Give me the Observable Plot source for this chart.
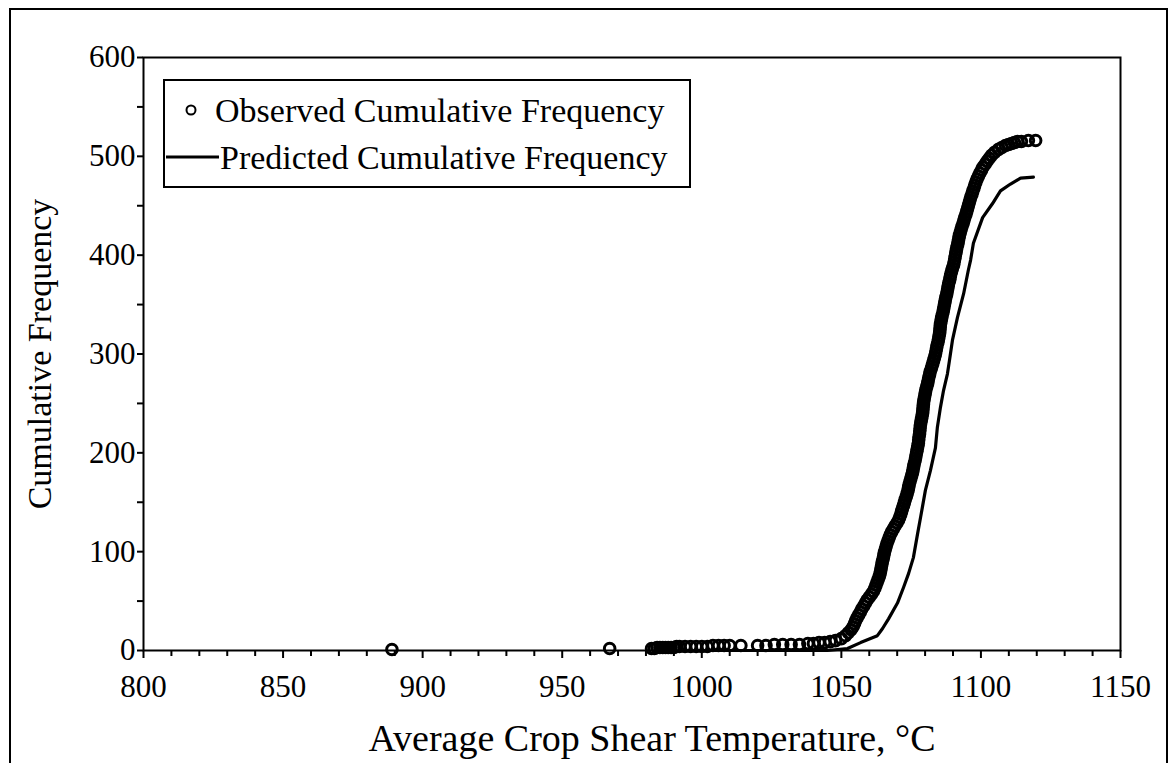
<!DOCTYPE html>
<html>
<head>
<meta charset="utf-8">
<script src="https://cdn.jsdelivr.net/npm/d3@7"></script>
<script src="https://cdn.jsdelivr.net/npm/@observablehq/plot@0.6"></script>
<style>
  html, body { margin: 0; padding: 0; background: #fff; }
  #wrap { position: relative; width: 1171px; height: 763px; overflow: hidden; }
  #border { position: absolute; left: 9px; top: 8px; width: 1159px; height: 800px; border: 2px solid #000; box-sizing: border-box; }
  #chart { position: absolute; left: 0; top: 0; }
</style>
</head>
<body>
<div id="wrap"><div id="border"></div><div id="chart"></div></div>
<script>
// ---- Data ----
const xTicks = [800, 850, 900, 950, 1000, 1050, 1100, 1150];
const xMinorTicks = [810, 820, 830, 840, 860, 870, 880, 890, 910, 920, 930, 940, 960, 970, 980, 990, 1010, 1020, 1030, 1040, 1060, 1070, 1080, 1090, 1110, 1120, 1130, 1140];
const yTicks = [0, 100, 200, 300, 400, 500, 600];
const yMinorTicks = [50, 150, 250, 350, 450, 550];

// Observed cumulative frequency: temperature (°C) and cumulative count
const obsTemp = [
  889, 967,
  982, 983, 984, 985, 986, 987, 988, 989, 990, 991, 992, 994, 996, 998, 1000, 1002, 1004, 1006, 1008, 1010,
  1014, 1020, 1023, 1026, 1029, 1032, 1035, 1038, 1040, 1042, 1044, 1046,
  1047.9, 1050, 1051.5, 1052.5, 1053.5, 1054.2, 1054.7, 1055.1, 1055.6, 1056.2, 1056.8, 1057.3, 1058.0, 1058.6, 1059.2, 1060.0, 1060.8, 1061.5,
  1062.0, 1062.4, 1062.8, 1063.2, 1063.6, 1063.9, 1064.1, 1064.3, 1064.5, 1064.7, 1065.0, 1065.2, 1065.4, 1065.7, 1066.0, 1066.3, 1066.7, 1067.1,
  1067.5, 1068.0, 1068.6, 1069.2, 1069.9, 1070.5, 1070.9, 1071.3, 1071.6, 1071.9, 1072.3, 1072.6, 1072.9, 1073.3, 1073.6, 1073.9, 1074.1, 1074.3,
  1074.6, 1074.9, 1075.2, 1075.5, 1075.7, 1075.9, 1076.1, 1076.4, 1076.6, 1076.8, 1077.0, 1077.2, 1077.4, 1077.6, 1077.7, 1077.8, 1078.0, 1078.1,
  1078.2, 1078.3, 1078.5, 1078.7, 1078.9, 1079.1, 1079.2, 1079.3, 1079.4, 1079.5, 1079.7, 1079.9, 1080.1, 1080.3, 1080.6, 1080.9, 1081.1, 1081.3,
  1081.6, 1081.8, 1082.2, 1082.5, 1082.8, 1083.1, 1083.4, 1083.7, 1083.9, 1084.1, 1084.3, 1084.6, 1084.8, 1085.0, 1085.2, 1085.3, 1085.4, 1085.5,
  1085.7, 1085.9, 1086.1, 1086.4, 1086.6, 1086.8, 1087.0, 1087.2, 1087.4, 1087.7, 1087.9, 1088.1, 1088.3, 1088.5, 1088.8, 1089.0, 1089.2, 1089.5,
  1089.8, 1090.2, 1090.4, 1090.6, 1090.8, 1091.0, 1091.2, 1091.4, 1091.7, 1091.9, 1092.1, 1092.3, 1092.6, 1092.9, 1093.2, 1093.6, 1093.9, 1094.2,
  1094.6, 1094.9, 1095.2, 1095.5, 1095.8, 1096.1, 1096.4, 1096.8, 1097.1, 1097.5, 1097.8, 1098.2, 1098.6, 1099.1, 1099.6, 1100.2, 1100.7, 1101.5,
  1102.2, 1103.0, 1103.8, 1104.9, 1106.3, 1107.5, 1108.8, 1109.9, 1111.0, 1112.0, 1113.1, 1114.5, 1117.0, 1119.6
];
const obsFreq = [
  1, 2,
  2, 2, 3, 3, 3, 3, 3, 3, 3, 4, 4, 4, 4, 4, 4, 4, 5, 5, 5, 5,
  5, 5, 5, 6, 6, 6, 6, 7, 7, 8, 8, 9,
  10, 12, 15, 18, 21, 24, 27, 30, 33, 36, 39, 42, 45, 48, 51, 54, 57, 60,
  63, 66, 69, 72, 75, 78, 81, 84, 87, 90, 93, 96, 99, 102, 105, 108, 111, 114,
  117, 120, 123, 126, 129, 132, 135, 138, 141, 144, 147, 150, 153, 156, 159, 162, 165, 168,
  171, 174, 177, 180, 183, 186, 189, 192, 195, 198, 201, 204, 207, 210, 213, 216, 219, 222,
  225, 228, 231, 234, 237, 240, 243, 246, 249, 252, 255, 258, 261, 264, 267, 270, 273, 276,
  279, 282, 285, 288, 291, 294, 297, 300, 303, 306, 309, 312, 315, 318, 321, 324, 327, 330,
  333, 336, 339, 342, 345, 348, 351, 354, 357, 360, 363, 366, 369, 372, 375, 378, 381, 384,
  387, 390, 393, 396, 399, 402, 405, 408, 411, 414, 417, 420, 423, 426, 429, 432, 435, 438,
  441, 444, 447, 450, 453, 456, 459, 462, 465, 468, 471, 474, 477, 480, 483, 486, 489, 492,
  495, 498, 501, 504, 507, 509, 511, 512, 513, 514, 515, 515, 516, 516
];

// Predicted cumulative frequency
const predTemp = [1000, 1045, 1052.2, 1056.9, 1062.9, 1064.7, 1066.9, 1070.1, 1072.3, 1074.1, 1075.8, 1077.3, 1078.4, 1080.1, 1081.9, 1083.7, 1084.4, 1085.5, 1086.6, 1088.0, 1088.7, 1089.8, 1091.6, 1093.8, 1095.5, 1096.3, 1097.3, 1100.6, 1104.1, 1107.0, 1110.6, 1114.2, 1118.8];
const predFreq = [0, 0, 2, 8, 15, 22, 32, 48, 64, 78, 94, 118, 135, 162, 182, 205, 226, 246, 263, 280, 293, 314, 337, 361, 385, 395, 412, 438, 452, 465, 472, 478, 479];

const xLabel = "Average Crop Shear Temperature, °C";
const yLabel = "Cumulative Frequency";
const legendLabels = ["Observed Cumulative Frequency", "Predicted Cumulative Frequency"];

// ---- Build tables ----
const observed = obsTemp.map((t, i) => ({t, f: obsFreq[i]}));
const predicted = predTemp.map((t, i) => ({t, f: predFreq[i]}));

const font = "'Liberation Serif', 'Times New Roman', serif";

const chart = Plot.plot({
  width: 1171,
  height: 763,
  marginLeft: 143,
  marginRight: 51,
  marginTop: 57,
  marginBottom: 113,
  style: {fontFamily: font, background: "transparent", color: "#000", overflow: "visible"},
  x: {domain: [800, 1150]},
  y: {domain: [0, 600]},
  marks: [
    Plot.axisX({ticks: xTicks, tickSize: 8, tickPadding: 16, fontSize: 31, tickFormat: d => String(d), label: null, strokeWidth: 2}),
    Plot.axisX(xMinorTicks, {tickSize: 6, text: null, label: null, strokeWidth: 2}),
    Plot.axisY({ticks: yTicks, tickSize: 6, tickPadding: 2, fontSize: 31, tickFormat: d => String(d), label: null, strokeWidth: 2}),
    Plot.axisY(yMinorTicks, {tickSize: 6, text: null, label: null, strokeWidth: 2}),
    Plot.line(predicted, {x: "t", y: "f", stroke: "#000", strokeWidth: 3.2}),
    Plot.dot(observed, {x: "t", y: "f", r: 5.3, stroke: "#000", strokeWidth: 3, fill: "none"}),
    Plot.frame({stroke: "#000", strokeWidth: 2}),
    Plot.text([xLabel], {frameAnchor: "bottom", dy: 100, dx: 20, fontSize: 38, textAnchor: "middle"}),
    Plot.text([yLabel], {frameAnchor: "left", dx: -103, rotate: -90, fontSize: 34, textAnchor: "middle"})
  ]
});

document.getElementById("chart").appendChild(chart);

// ---- Legend (drawn into the same SVG) ----
const svg = d3.select(chart);
const lg = svg.append("g").attr("font-family", font).attr("font-size", 34).attr("fill", "#000").attr("text-anchor", "start");
lg.append("rect").attr("x", 164).attr("y", 80).attr("width", 526).attr("height", 107)
  .attr("fill", "#fff").attr("stroke", "#000").attr("stroke-width", 2);
lg.append("circle").attr("cx", 191).attr("cy", 110).attr("r", 4.5)
  .attr("fill", "none").attr("stroke", "#000").attr("stroke-width", 2);
lg.append("text").attr("x", 215).attr("y", 110).attr("dy", "0.35em").text(legendLabels[0]);
lg.append("line").attr("x1", 166).attr("x2", 219).attr("y1", 157).attr("y2", 157)
  .attr("stroke", "#000").attr("stroke-width", 3);
lg.append("text").attr("x", 220).attr("y", 157).attr("dy", "0.35em").text(legendLabels[1]);
</script>
</body>
</html>
